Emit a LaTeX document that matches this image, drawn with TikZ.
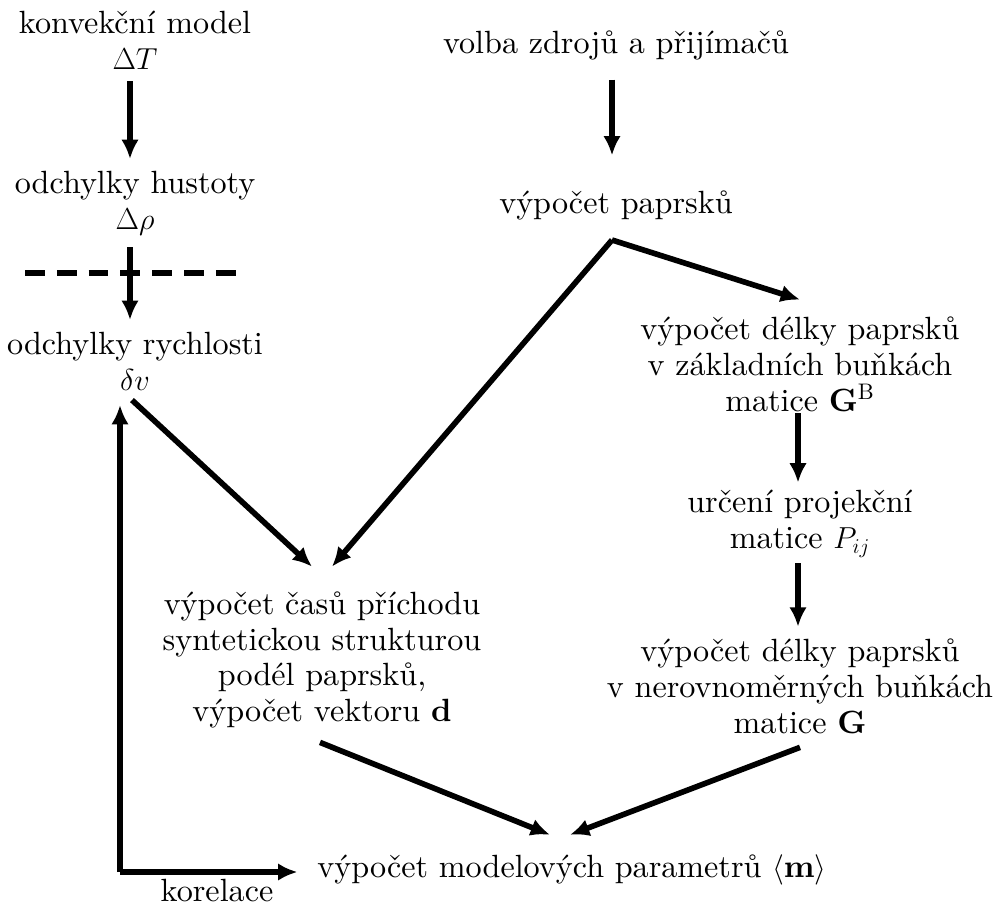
\documentclass[tikz,border=0pt]{standalone}
\usepackage{fontspec}
\setmainfont{lmroman10}[Extension=.otf,UprightFont=*-regular,BoldFont=*-bold,ItalicFont=*-italic,BoldItalicFont=*-bolditalic]
\usetikzlibrary{arrows.meta}
\begin{document}
\begin{tikzpicture}[x=0.02cm,y=-0.02cm,
  txt/.style={align=center,inner sep=0pt,outer sep=0pt,font=\fontsize{18.3}{20.4}\selectfont},
  arr/.style={line width=3.2pt,-{Latex[length=11pt,width=10pt]}},
  ln/.style={line width=3.2pt}]
\useasboundingbox (0,0) rectangle (997,906);
\node[txt] (konv) at (135,40) {konvekční model\\$\Delta T$};
\node[txt] (hust) at (135,203) {odchylky hustoty\\$\Delta\rho$};
\node[txt] (rych) at (135,361) {odchylky rychlosti\\$\delta v$};
\node[txt] (volba) at (616,45) {volba zdrojů a přijímačů};
\node[txt] (papr) at (616,205) {výpočet paprsků};
\node[txt] (delkaB) at (800,364) {výpočet délky paprsků\\v základních buňkách\\matice $\mathbf{G}^{\mathrm{B}}$};
\node[txt] (proj) at (800,524) {určení projekční\\matice $P_{ij}$};
\node[txt] (delkaG) at (800,686) {výpočet délky paprsků\\v nerovnoměrných buňkách\\matice $\mathbf{G}$};
\node[txt] (casy) at (322,660) {výpočet časů příchodu\\syntetickou strukturou\\podél paprsků,\\výpočet vektoru $\mathbf{d}$};
\node[txt] (model) at (572,870) {výpočet modelových parametrů $\langle\mathbf{m}\rangle$};
\node[txt] (kor) at (217,891) {korelace};
\coordinate (dashL) at (25,273);
\coordinate (dashR) at (237,273);
\coordinate (split) at (612,240);
\coordinate (corner) at (120,872);
\draw[ln,dash pattern=on 11.3pt off 6.8pt] (dashL) -- (dashR);
\draw[arr] ([shift={(-5,12)}]konv.south) -- ([shift={(-5,-12)}]hust.north);
\draw[arr] ([shift={(-5,12)}]hust.south) -- ([shift={(-5,-12)}]rych.north);
\draw[arr] ([shift={(-4,20)}]volba.south) -- ([shift={(-4,-35)}]papr.north);
\draw[arr] (split) -- ([shift={(0,-17)}]delkaB.north) coordinate (tipB);
\draw[arr] (split) -- ([shift={(10,-25)}]casy.north) coordinate (tipC);
\draw[arr] ([shift={(-2,2)}]delkaB.south) -- ([shift={(-2,-8)}]proj.north);
\draw[arr] ([shift={(-2,6)}]proj.south) -- ([shift={(-2,-12)}]delkaG.north);
\draw[arr] ([shift={(-3,10)}]rych.south) -- ([shift={(-10,-25)}]casy.north);
\draw[arr] ([shift={(-2,14)}]casy.south) -- ([shift={(-22,-20)}]model.north);
\draw[arr] ([shift={(0,14)}]delkaG.south) -- ([shift={(-2,-20)}]model.north);
\draw[arr] (corner) -- ([shift={(0,15)}]corner |- rych.south);
\draw[arr] (corner) -- ([shift={(-20,0)}]corner -| model.west);
\end{tikzpicture}
\end{document}
